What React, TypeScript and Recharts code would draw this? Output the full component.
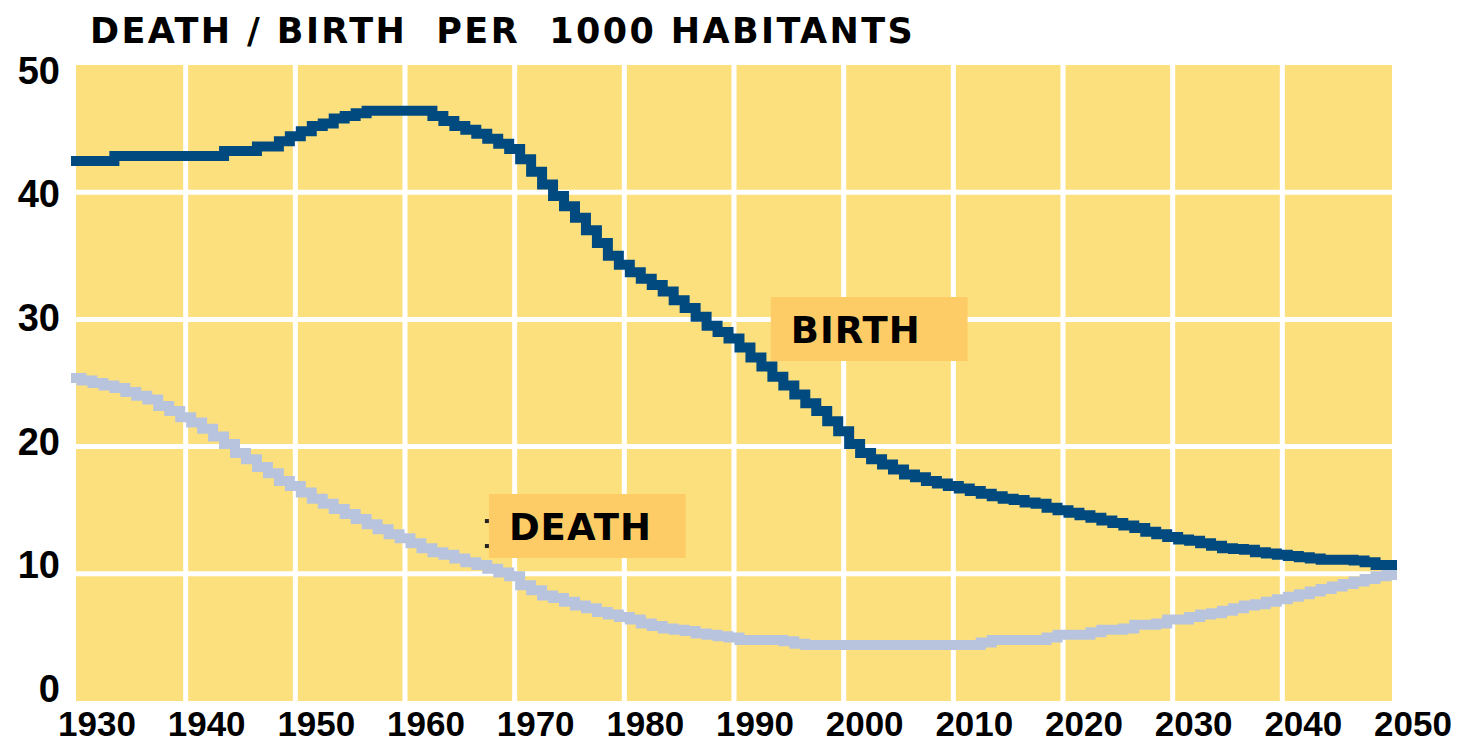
import { CartesianGrid, Line, LineChart, ReferenceArea, XAxis, YAxis } from 'recharts';

const years = Array.from({ length: 121 }, (_, i) => 1930 + i);

// births per 1000, one value a year 1930..2050
const birthRate = [
  42.45, 42.45, 42.45, 42.45, 42.85, 42.85, 42.85, 42.85, 42.85, 42.85,
  42.85, 42.85, 42.85, 42.85, 43.24, 43.24, 43.24, 43.6, 43.6, 44.0,
  44.4, 44.8, 45.2, 45.4, 45.8, 46.0, 46.2, 46.4, 46.4, 46.4,
  46.4, 46.4, 46.4, 46.0, 45.6, 45.2, 44.9, 44.6, 44.2, 43.8,
  43.4, 42.6, 41.6, 40.6, 39.7, 38.9, 38.0, 37.0, 36.0, 35.0,
  34.3, 33.7, 33.2, 32.7, 32.2, 31.5, 30.9, 30.2, 29.5, 29.0,
  28.5, 27.8, 27.0, 26.3, 25.5, 24.8, 24.1, 23.4, 22.8, 22.0,
  21.2, 20.2, 19.5, 19.0, 18.6, 18.2, 17.8, 17.6, 17.3, 17.1,
  16.9, 16.7, 16.5, 16.3, 16.1, 15.9, 15.8, 15.6, 15.5, 15.2,
  15.0, 14.8, 14.6, 14.4, 14.2, 14.0, 13.8, 13.6, 13.3, 13.1,
  12.9, 12.7, 12.6, 12.4, 12.2, 12.0, 11.95, 11.9, 11.7, 11.6,
  11.5, 11.4, 11.3, 11.2, 11.1, 11.1, 11.1, 11.05, 10.9, 10.7,
  10.7,
];

// deaths per 1000
const deathRate = [
  25.4, 25.2, 25.0, 24.8, 24.6, 24.3, 24.0, 23.7, 23.2, 22.8,
  22.3, 21.9, 21.4, 20.8, 20.2, 19.5, 19.0, 18.4, 17.9, 17.3,
  16.9, 16.4, 15.9, 15.5, 15.1, 14.7, 14.3, 13.9, 13.5, 13.1,
  12.8, 12.4, 12.0, 11.7, 11.5, 11.2, 10.9, 10.7, 10.4, 10.1,
  9.8, 9.1, 8.7, 8.3, 8.1, 7.8, 7.5, 7.3, 7.0, 6.8,
  6.6, 6.4, 6.1, 5.9, 5.7, 5.6, 5.5, 5.3, 5.2, 5.1,
  5.0, 4.8, 4.8, 4.8, 4.8, 4.7, 4.5, 4.4, 4.4, 4.4,
  4.4, 4.4, 4.4, 4.4, 4.4, 4.4, 4.4, 4.4, 4.4, 4.4,
  4.4, 4.4, 4.4, 4.6, 4.8, 4.8, 4.8, 4.8, 4.8, 5.0,
  5.2, 5.2, 5.2, 5.4, 5.6, 5.6, 5.7, 6.0, 6.0, 6.1,
  6.4, 6.4, 6.6, 6.8, 6.9, 7.1, 7.3, 7.5, 7.6, 7.8,
  8.0, 8.2, 8.4, 8.6, 8.8, 9.0, 9.2, 9.4, 9.6, 9.8,
  9.9,
];

const yearTicks = [1930, 1940, 1950, 1960, 1970, 1980, 1990, 2000, 2010, 2020, 2030, 2040, 2050];
const rateTicks = [0, 10, 20, 30, 40, 50];

const data = years.map((year, i) => ({ year, birth: birthRate[i], death: deathRate[i] }));

const numFont = '"Liberation Sans", Arial, sans-serif';
const labelFont = '"DejaVu Sans", Verdana, sans-serif';

// eslint-disable-next-line @typescript-eslint/no-explicit-any
function XTick({ x, y, payload }: any) {
  return (
    <text x={x + 21} y={y + 35} textAnchor='middle' fontFamily={numFont} fontWeight='bold' fontSize={35} fill='#000'>
      {payload.value}
    </text>
  );
}

// eslint-disable-next-line @typescript-eslint/no-explicit-any
function YTick({ x, y, payload }: any) {
  return (
    <text x={x} y={y + 1 + payload.value * 0.35} textAnchor='end' fontFamily={numFont} fontWeight='bold' fontSize={38} fill='#000'>
      {payload.value}
    </text>
  );
}

// eslint-disable-next-line @typescript-eslint/no-explicit-any
const boxLabel = (text: string, colon: boolean) => (props: any) => {
  const { x, y } = props.viewBox;
  return (
    <g>
      {colon && <rect x={x - 4} y={y + 25} width={4} height={4} fill='#222' />}
      {colon && <rect x={x - 4} y={y + 50} width={4} height={4} fill='#222' />}
      <text x={x + 20} y={y + 46} fontFamily={labelFont} fontWeight='bold' fontSize={37} letterSpacing={1} fill='#000'>
        {text}
      </text>
    </g>
  );
};

// eslint-disable-next-line @typescript-eslint/no-explicit-any
const scaleOf = (axis: any, v: number, lo: number, span: number, d0: number, d1: number) =>
  axis && typeof axis.scale === 'function' ? axis.scale(v) : lo + ((v - d0) / (d1 - d0)) * span;

export default function App() {
  return (
    <div style={{ position: 'absolute', left: 0, top: 0, width: 1459, height: 744, background: '#fff' }}>
      <svg width={1459} height={60} style={{ position: 'absolute', left: 0, top: 0 }}>
        <text x={90} y={43} fontFamily={labelFont} fontWeight='bold' fontSize={35} letterSpacing={2.4} fill='#000' style={{ whiteSpace: 'pre' }}>
          {'DEATH / BIRTH  PER  1000 HABITANTS'}
        </text>
      </svg>
      <LineChart
        width={1459}
        height={744}
        data={data}
        margin={{ top: 65, right: 67, bottom: 0, left: 0 }}
        style={{ position: 'absolute', left: 0, top: 0 }}
      >
        <CartesianGrid
          fill='#FDE07E'
          fillOpacity={1}
          stroke='#FFFFFF'
          strokeWidth={5}
          // eslint-disable-next-line @typescript-eslint/no-explicit-any
          horizontalCoordinatesGenerator={({ yAxis, offset }: any) =>
            rateTicks.slice(1, -1).map((v) => scaleOf(yAxis, v, offset.top + offset.height, -offset.height, 0, 50))
          }
          // eslint-disable-next-line @typescript-eslint/no-explicit-any
          verticalCoordinatesGenerator={({ xAxis, offset }: any) =>
            yearTicks.slice(1, -1).map((v) => scaleOf(xAxis, v, offset.left, offset.width, 1930, 2050))
          }
        />
        <XAxis
          dataKey='year'
          type='number'
          domain={[1930, 2050]}
          ticks={yearTicks}
          interval={0}
          axisLine={false}
          tickLine={false}
          tickSize={0}
          tickMargin={0}
          height={43}
          tick={<XTick />}
        />
        <YAxis
          type='number'
          domain={[0, 50]}
          ticks={rateTicks}
          interval={0}
          axisLine={false}
          tickLine={false}
          tickSize={0}
          tickMargin={16}
          width={76}
          tick={<YTick />}
        />
        <Line
          type='step'
          dataKey='death'
          stroke='#B8C4DD'
          strokeWidth={10}
          strokeLinecap='square'
          strokeLinejoin='miter'
          dot={false}
          activeDot={false}
          isAnimationActive={false}
        />
        <Line
          type='step'
          dataKey='birth'
          stroke='#004A80'
          strokeWidth={10}
          strokeLinecap='square'
          strokeLinejoin='miter'
          dot={false}
          activeDot={false}
          isAnimationActive={false}
        />
        <ReferenceArea
          x1={1993.35}
          x2={2011.3}
          y1={26.73}
          y2={31.76}
          fill='#FECC66'
          fillOpacity={1}
          stroke='none'
          label={boxLabel('BIRTH', false)}
        />
        <ReferenceArea
          x1={1967.65}
          x2={1985.6}
          y1={11.24}
          y2={16.27}
          fill='#FECC66'
          fillOpacity={1}
          stroke='none'
          label={boxLabel('DEATH', true)}
        />
      </LineChart>
    </div>
  );
}
